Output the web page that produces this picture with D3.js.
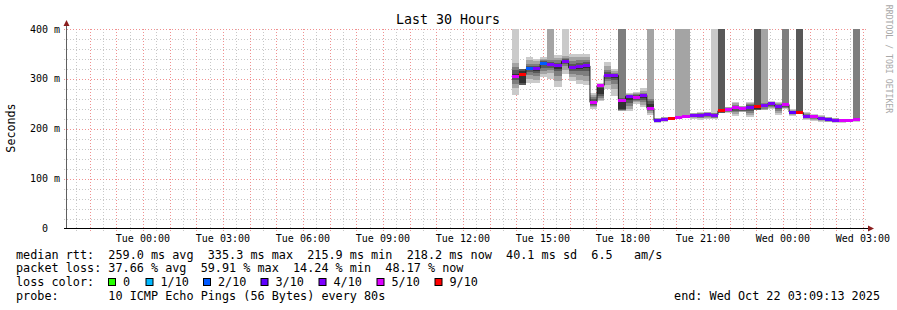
<!DOCTYPE html>
<html><head><meta charset="utf-8">
<script src="https://cdn.jsdelivr.net/npm/d3@7"></script>
<style>
html,body{margin:0;padding:0;background:#fff;}
svg{display:block;font-family:"DejaVu Sans Mono",monospace;}
text{white-space:pre;}
</style></head><body>
<svg id="c" width="897" height="310"></svg>
<script>
// ---------- data ----------
const title = "Last 30 Hours";
const yLabel = "Seconds";
const endTime = "2025-10-22T03:09:13Z";
const spanHours = 30;
const firstStep = "2025-10-21T13:49:52Z";
const stepSeconds = 960;
const medians = [305,309,320,321,330,328,326,335,322,325,326,253,287,307,307,257,265,262,267,241,
  216.5,219,221.5,222,224,226.5,227,229,227.5,236,238.5,242,241,243,245,247,250,245,248.5,233.5,
  232.5,225.5,224,221,219,217,215.9,217,218.2];
const lossCounts = [5,9,2,4,2,4,4,4,4,4,4,5,5,4,4,5,4,5,4,5,
  3,4,9,5,5,4,4,4,4,9,5,5,5,4,9,4,4,4,5,3,
  9,4,5,4,3,4,5,5,5];
// sorted ping rtts per step (ms), null = lost; values above 400 are clipped by the chart
const pings = [
 [268,281,290,297,301,309,317,324,331,420],
 [null,null,null,288,292,315,320,null,null,null],
 [292,300,308,313,317,323,326,330,337,343],
 [291,298,305,312,316,323,326,330,335,340],
 [303,310,316,322,327,333,335,337,340,344],
 [300,312,318,322,325,331,334,338,420,420],
 [284,295,305,315,320,329,332,337,342,347],
 [310,318,325,330,332,337,339,342,345,420],
 [296,303,310,316,319,326,330,336,344,350],
 [290,298,307,315,320,328,331,337,343,349],
 [287,295,305,315,321,330,333,338,344,350],
 [240,243,246,248,250,256,260,264,268,272],
 [256,258,262,266,270,282,285,288,290,292],
 [279,288,295,300,303,310,313,318,325,333],
 [266,280,290,298,302,309,310,312,315,320],
 [236,236,237,238,240,258,262,420,420,420],
 [235,240,246,252,258,266,267,268,270,272],
 [250,253,256,258,260,265,267,269,271,273],
 [243,248,253,257,261,268,270,272,276,281],
 [228,232,236,238,240,250,255,260,420,420],
 [212,213,214,214.5,215,218,219,220,221,222],
 [214,215,216,217,218,220,221,222,223,224],
 [null,null,null,219,220,223,224,null,null,null],
 [219,219,220,220.5,221,223,224,226,420,420],
 [222,222,223,223.5,224,225,226,228,420,420],
 [220,222,223,224,225,228,229,230,231,232],
 [218.5,221,222,223,225,229,230,231,232,233],
 [219,222,224,226,227,230,231,232,233,234],
 [220,221,222,224,226,229,230,231,232,420],
 [null,null,null,232,234,238,420,null,null,null],
 [232,233,234,235,237,240,241,242,243,244],
 [225,229,233,236,239,244,246,248,251,254],
 [233,234,235,236,238,242,243,244,245,246],
 [223,227,231,235,239,245,247,249,251,254],
 [null,null,null,237,240,247,420,null,null,null],
 [237,238,240,243,245,249,250,252,420,420],
 [239,241,243,245,247,251,252,253,254,256],
 [228,232,236,240,242,246,248,249,251,253],
 [240,241,242,243,245,250,252,420,420,420],
 [225,227,229,231,232,235,236,236.5,237,239],
 [null,null,null,231,232,234,420,null,null,null],
 [218,220,222,223,224,227,228,229,231,233],
 [216,218,220,221,222,225,226,227,228,229],
 [213,215,217,218,220,222,223,224,225,227],
 [213,214,215,216,217,220,221,222,223,224],
 [212,213,214,215,216,218,219,220,221,222],
 [212,213,213.5,214,215,216.5,217,218,219,220],
 [215,215.5,216,216.5,217,217.5,218,218.5,219,219.5],
 [214.4,215,215.5,216,217,219,220,420,420,420]
];
const yTicks = [0,100,200,300,400];
const yTickLabels = ["0  ","100 m","200 m","300 m","400 m"];
const lossLevels = [0,1,2,3,4,5,9];
const lossLabels = ["0","1/10","2/10","3/10","4/10","5/10","9/10"];
const lossColors = ["#26ff00","#00b8ff","#0059ff","#5e00ff","#7e00ff","#dd00ff","#ff0000"];
const smokeColors = ["#cacaca","#a4a4a4","#7e7e7e","#585858","#323232"];
const legendLines = [
 "median rtt:  259.0 ms avg  335.3 ms max  215.9 ms min  218.2 ms now  40.1 ms sd  6.5   am/s",
 "packet loss: 37.66 % avg  59.91 % max  14.24 % min  48.17 % now",
 "loss color:",
 "probe:       10 ICMP Echo Pings (56 Bytes) every 80s"
];
const endLabel = "end: Wed Oct 22 03:09:13 2025";
const watermark = "RRDTOOL / TOBI OETIKER";

// ---------- drawing ----------
const svg = d3.select("#c");
svg.append("rect").attr("width",897).attr("height",310).attr("fill","#fff");
const L = 67, R = 867, B = 228.5, T = 29;
const tEnd = new Date(endTime);
const tStart = new Date(tEnd.getTime() - spanHours*3600e3);
const x = d3.scaleUtc().domain([tStart,tEnd]).range([L,R]);
const y = d3.scaleLinear().domain([0,400]).range([B,T]).clamp(true);
const t0 = new Date(firstStep).getTime();
const stepT = i => new Date(t0 + i*stepSeconds*1000);

const grid = svg.append("g");
// minor grid
d3.range(20,401,20).filter(v=>v%100!==0).forEach(v=>{
  const yy = Math.round(y(v))+0.5;
  grid.append("line").attr("x1",64).attr("x2",R).attr("y1",yy).attr("y2",yy)
    .attr("stroke","#c8c8c8").attr("stroke-dasharray","1,2");
});
x.ticks(d3.utcMinute.every(30)).filter(d=>d.getUTCMinutes()!==0).forEach(d=>{
  const xx = Math.round(x(d))+0.5;
  grid.append("line").attr("x1",xx).attr("x2",xx).attr("y1",T).attr("y2",231)
    .attr("stroke","#c8c8c8").attr("stroke-dasharray","1,2");
});
// major grid
yTicks.filter(v=>v>0).forEach(v=>{
  const yy = Math.round(y(v))+0.5;
  grid.append("line").attr("x1",64).attr("x2",R).attr("y1",yy).attr("y2",yy)
    .attr("stroke","#f09090").attr("stroke-dasharray","1,2");
});
x.ticks(d3.utcHour.every(1)).forEach(d=>{
  const xx = Math.round(x(d))+0.5;
  grid.append("line").attr("x1",xx).attr("x2",xx).attr("y1",T).attr("y2",231)
    .attr("stroke","#f09090").attr("stroke-dasharray","1,2");
});

// smoke
const smoke = svg.append("g").attr("shape-rendering","crispEdges");
for (let b=0;b<5;b++){
  pings.forEach((p,i)=>{
    const lo = p[b], hi = p[9-b];
    if (lo==null || hi==null) return;
    const x0 = x(stepT(i)), x1 = x(stepT(i+1));
    smoke.append("rect").attr("x",x0).attr("width",x1-x0)
      .attr("y",y(hi)).attr("height",y(lo)-y(hi)).attr("fill",smokeColors[b]);
  });
}
// median line
const pts = medians.map((m,i)=>[x(stepT(i)),y(m)]);
pts.push([x(stepT(medians.length)), y(medians[medians.length-1])]);
svg.append("path").attr("d",d3.line().curve(d3.curveStepAfter)(pts))
  .attr("fill","none").attr("stroke","#202020").attr("stroke-width",1);
// loss-coloured median bars
const lossColor = l => { for (let k=0;k<lossLevels.length;k++) if (l<=lossLevels[k]) return lossColors[k]; return lossColors[lossColors.length-1]; };
const mg = svg.append("g").attr("shape-rendering","crispEdges");
medians.forEach((m,i)=>{
  const x0 = x(stepT(i)), x1 = x(stepT(i+1));
  mg.append("rect").attr("x",x0).attr("width",x1-x0).attr("y",y(m)-1.5).attr("height",3)
    .attr("fill",lossColor(lossCounts[i]));
});

// axes
svg.append("line").attr("x1",66.5).attr("x2",66.5).attr("y1",B).attr("y2",25).attr("stroke","#606060");
svg.append("line").attr("x1",64).attr("x2",870).attr("y1",B).attr("y2",B).attr("stroke","#000").attr("stroke-width",1.2);
svg.append("path").attr("d","M63.5,26L69.5,26L66.5,20Z").attr("fill","#8b1e1e");
svg.append("path").attr("d","M868,225.5L874,228.5L868,231.5Z").attr("fill","#8b1e1e");

// tick labels
yTicks.forEach((v,i)=>{
  svg.append("text").attr("x",60).attr("y",y(v)).attr("dy","0.35em").attr("text-anchor","end")
    .attr("font-size","10px").attr("fill","#000").text(yTickLabels[i]);
});
x.ticks(d3.utcHour.every(3)).forEach(d=>{
  svg.append("text").attr("x",x(d)).attr("y",241.5).attr("text-anchor","middle")
    .attr("font-size","10px").attr("fill","#000").text(d3.utcFormat("%a %H:%M")(d));
});

// titles
svg.append("text").attr("x",448).attr("y",24).attr("text-anchor","middle")
  .attr("font-size","13.3px").attr("fill","#000").text(title);
svg.append("text").attr("transform","translate(11,128) rotate(-90)").attr("text-anchor","middle")
  .attr("dy","0.35em").attr("font-size","11.7px").attr("fill","#000").text(yLabel);
svg.append("text").attr("transform","translate(889,59) rotate(90)").attr("text-anchor","middle")
  .attr("dy","0.35em").attr("font-size","8.2px").attr("fill","#a8a8a8").text(watermark);

// legend
const rowY = [258.5,272.3,286.1,300];
legendLines.forEach((s,i)=>{
  svg.append("text").attr("x",16).attr("y",rowY[i]).attr("font-size","11.8px").attr("fill","#000").text(s);
});
const boxX = [108.5,146,203.5,261,319,377,435];
lossLabels.forEach((lab,i)=>{
  svg.append("rect").attr("x",boxX[i]).attr("y",278.5).attr("width",7).attr("height",7)
    .attr("fill",lossColors[i]).attr("stroke","#000").attr("stroke-width",1);
  svg.append("text").attr("x",boxX[i]+14.5).attr("y",rowY[2]).attr("font-size","11.8px").attr("fill","#000").text(lab);
});
svg.append("text").attr("x",880).attr("y",rowY[3]).attr("text-anchor","end")
  .attr("font-size","11.8px").attr("fill","#000").text(endLabel);
</script>
</body></html>
